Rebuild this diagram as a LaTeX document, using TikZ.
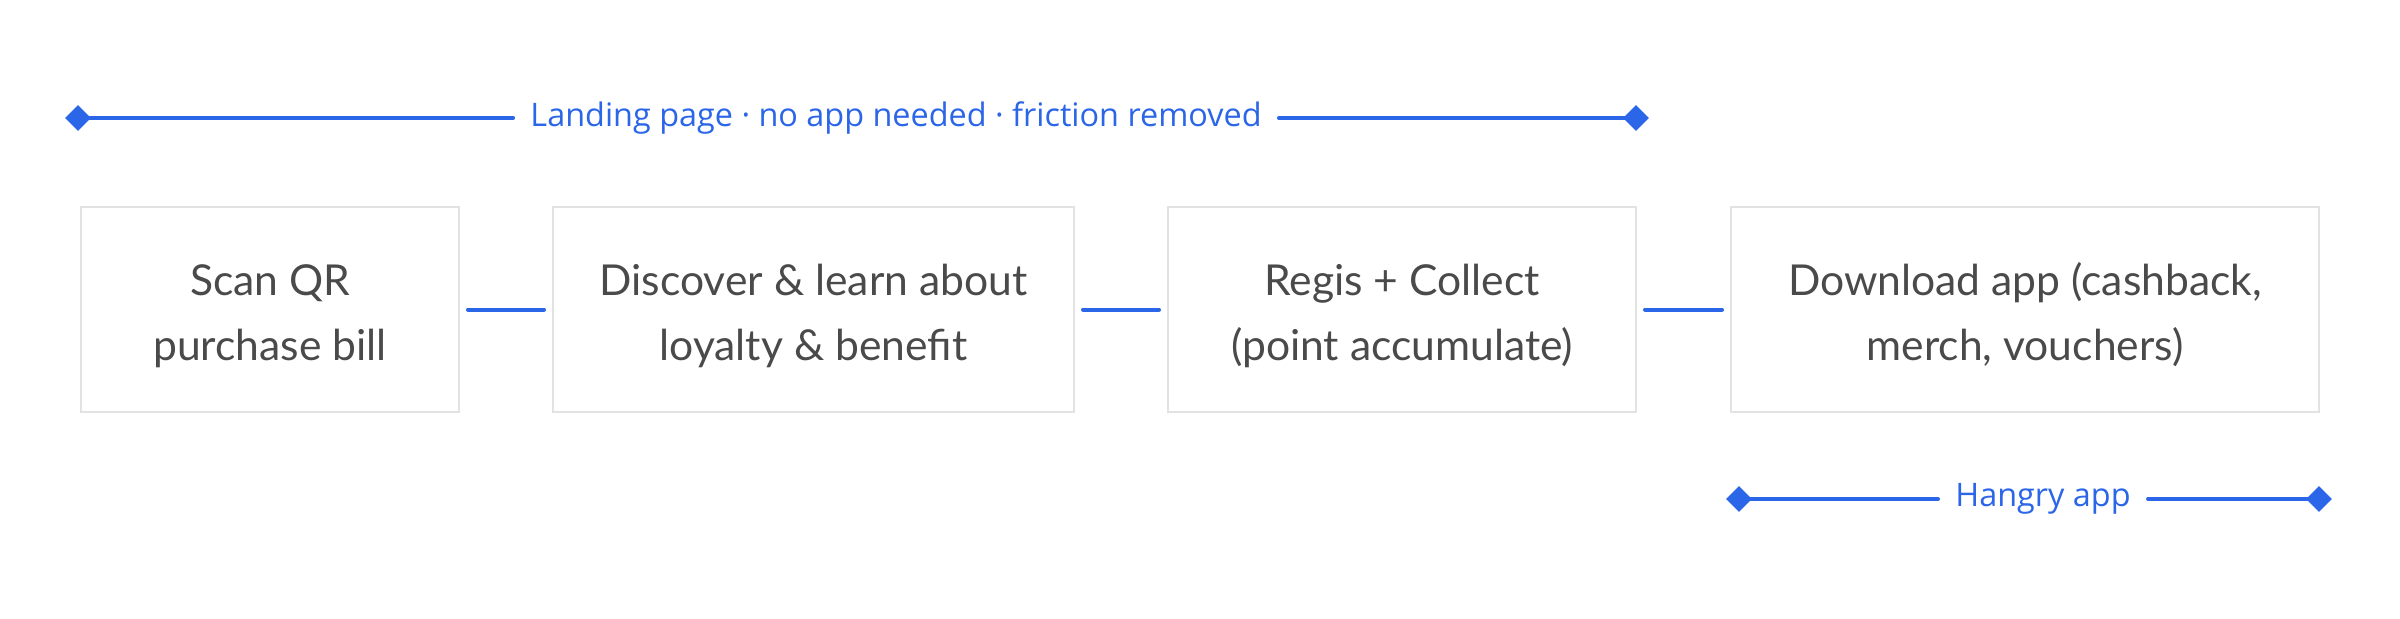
\documentclass[tikz,border=0pt]{standalone}
\usepackage{fontspec}
\setmainfont{Lato}
\newfontfamily\labfont{Open Sans}
\usetikzlibrary{shapes.geometric}
\definecolor{accent}{HTML}{2B65E8}
\definecolor{boxline}{HTML}{E2E2E2}
\definecolor{boxtext}{HTML}{4A4A4A}
\newcommand{\topstrut}{\rule{0pt}{22pt}}
\begin{document}
\begin{tikzpicture}[x=0.5pt,y=-0.5pt,
  stage/.style={draw=boxline, line width=1pt, text=boxtext,
    font=\fontsize{21.3}{32.5}\selectfont, align=center, inner sep=0,
    minimum height=102.5pt},
  link/.style={draw=accent, line width=2pt, line cap=round, shorten <=4pt, shorten >=4pt},
  tip/.style={diamond, fill=accent, draw=none, inner sep=0, minimum width=13pt, minimum height=13pt},
  span/.style={draw=accent, line width=2pt, line cap=round},
  spanlabel/.style={text=accent, font=\labfont\fontsize{16.2}{18}\selectfont, inner xsep=8.5pt, inner ysep=0pt}
]
\useasboundingbox (0,0) rectangle (2400,618);
% stages
\node[stage, minimum width=189pt]   (s1) at (270,309.5)  {\topstrut Scan QR\\purchase bill};
\node[stage, minimum width=260.5pt] (s2) at (813.5,309.5) {\topstrut Discover \& learn about\\loyalty \& benefit};
\node[stage, minimum width=234pt]   (s3) at (1402,309.5) {\topstrut Regis + Collect\\(point accumulate)};
\node[stage, minimum width=294pt]   (s4) at (2025,309.5) {\topstrut Download app (cashback,\\merch, vouchers)};
\draw[link] (s1.east) -- (s2.west);
\draw[link] (s2.east) -- (s3.west);
\draw[link] (s3.east) -- (s4.west);
% top span
\node[tip] (t1) at (78,118) {};
\node[tip] (t2) at (1636,118) {};
\node[spanlabel] (tl) at (896,118) {Landing page · no app needed · friction removed};
\draw[span] (t1.center) -- (tl.west);
\draw[span] (tl.east) -- (t2.center);
% bottom span
\node[tip] (b1) at (1739,499) {};
\node[tip] (b2) at (2319,499) {};
\node[spanlabel] (bl) at (2043,499) {Hangry app};
\draw[span] (b1.center) -- (bl.west);
\draw[span] (bl.east) -- (b2.center);
\end{tikzpicture}
\end{document}
